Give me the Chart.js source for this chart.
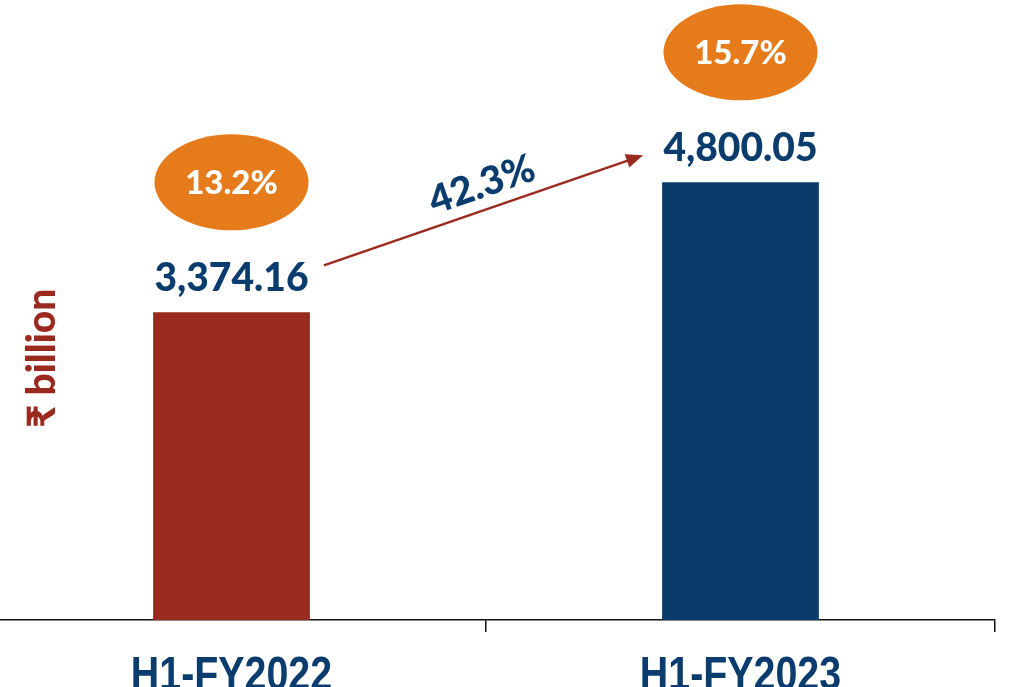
<!DOCTYPE html>
<html>
<head>
<meta charset="utf-8">
<script src="https://cdn.jsdelivr.net/npm/chart.js@4/dist/chart.umd.min.js"></script>
<style>
  html, body { margin: 0; padding: 0; background: #fff; overflow: hidden; }
  #wrap { position: absolute; left: -23px; top: 0; width: 1040px; height: 687px; }
</style>
</head>
<body>
<div id="wrap"><canvas id="chart1"></canvas></div>
<script>
// data
const categories = ['H1-FY2022', 'H1-FY2023'];
const values = [3374.16, 4800.05];
const valueLabels = ['3,374.16', '4,800.05'];
const shares = ['13.2%', '15.7%'];
const growthLabel = '42.3%';
const barColors = ['#992A1F', '#093B6B'];

const navy = '#0B3C6E';
const orange = '#E67B1B';
const arrowRed = '#9B2A1E';

// x labels, bubbles, value labels, growth arrow
const overlay = {
  id: 'overlay',
  afterDraw(chart) {
    const ctx = chart.ctx;
    const bars = chart.getDatasetMeta(0).data;
    const xs = chart.scales.x;

    ctx.save();
    // category labels (condensed bold)
    ctx.fillStyle = navy;
    ctx.font = 'bold 48px "Liberation Sans", Arial, sans-serif';
    ctx.textAlign = 'center';
    ctx.textBaseline = 'alphabetic';
    categories.forEach((c, i) => {
      const x = xs.getPixelForTick(i);
      ctx.save();
      ctx.translate(x, 690);
      ctx.scale(0.82, 1);
      ctx.fillText(c, 0, 0);
      ctx.restore();
    });

    bars.forEach((bar, i) => {
      // value above bar
      ctx.fillStyle = navy;
      ctx.font = '900 39px Lato, "Noto Sans", sans-serif';
      ctx.textAlign = 'center';
      ctx.textBaseline = 'alphabetic';
      ctx.fillText(valueLabels[i], bar.x, bar.y - 21);

      // orange bubble with share
      const cy = bar.y - 130;
      ctx.fillStyle = orange;
      ctx.beginPath();
      ctx.ellipse(bar.x, cy, 77, 48, 0, 0, Math.PI * 2);
      ctx.fill();
      ctx.fillStyle = '#fff';
      ctx.font = '900 33px Lato, "Noto Sans", sans-serif';
      ctx.textBaseline = 'middle';
      ctx.fillText(shares[i], bar.x, cy + 1);
    });

    // growth arrow between bars
    const b0 = bars[0], b1 = bars[1];
    const x0 = b0.x + b0.width / 2 + 14, y0 = b0.y - 47;
    const x1 = b1.x - b1.width / 2 - 19, y1 = b1.y - 27;
    const ang = Math.atan2(y1 - y0, x1 - x0);
    ctx.strokeStyle = arrowRed;
    ctx.fillStyle = arrowRed;
    ctx.lineWidth = 2.5;
    ctx.beginPath();
    ctx.moveTo(x0, y0);
    ctx.lineTo(x1 - 14 * Math.cos(ang), y1 - 14 * Math.sin(ang));
    ctx.stroke();
    ctx.save();
    ctx.translate(x1, y1);
    ctx.rotate(ang);
    ctx.beginPath();
    ctx.moveTo(0, 0);
    ctx.lineTo(-17, -7);
    ctx.lineTo(-17, 7);
    ctx.closePath();
    ctx.fill();
    ctx.restore();

    // growth text, along the arrow
    const tx = x0 + (x1 - x0) * 0.52, ty = y0 + (y1 - y0) * 0.52;
    ctx.save();
    ctx.translate(tx, ty);
    ctx.rotate(ang);
    ctx.fillStyle = navy;
    ctx.font = '900 39px Lato, "Noto Sans", sans-serif';
    ctx.textAlign = 'center';
    ctx.textBaseline = 'alphabetic';
    ctx.fillText(growthLabel, 0, -12);
    ctx.restore();

    // unit label on the left
    ctx.save();
    ctx.translate(55 - chart.canvas.getBoundingClientRect().left, 358);
    ctx.rotate(-Math.PI / 2);
    ctx.fillStyle = arrowRed;
    ctx.font = '900 39px Lato, "Noto Sans", "DejaVu Sans", sans-serif';
    ctx.textAlign = 'center';
    ctx.textBaseline = 'alphabetic';
    ctx.fillText('₹ billion', 0, 0);
    ctx.restore();

    ctx.restore();
  }
};

new Chart(document.getElementById('chart1'), {
  type: 'bar',
  data: {
    labels: categories,
    datasets: [{
      data: values,
      backgroundColor: barColors,
      barPercentage: 0.308,
      categoryPercentage: 1
    }]
  },
  options: {
    responsive: true,
    maintainAspectRatio: false,
    animation: false,
    layout: { padding: { top: 0, left: 0, right: 22, bottom: 0 } },
    plugins: { legend: { display: false }, tooltip: { enabled: false } },
    scales: {
      x: {
        offset: true,
        grid: { display: true, offset: true, drawOnChartArea: false, drawTicks: true, tickLength: 12, color: '#111', lineWidth: 1.5 },
        border: { display: true, color: '#111', width: 1.5 },
        ticks: { display: false },
        afterFit: s => { s.height = 67; }
      },
      y: {
        display: false,
        min: 0,
        max: 6800
      }
    }
  },
  plugins: [overlay]
});
</script>
</body>
</html>
